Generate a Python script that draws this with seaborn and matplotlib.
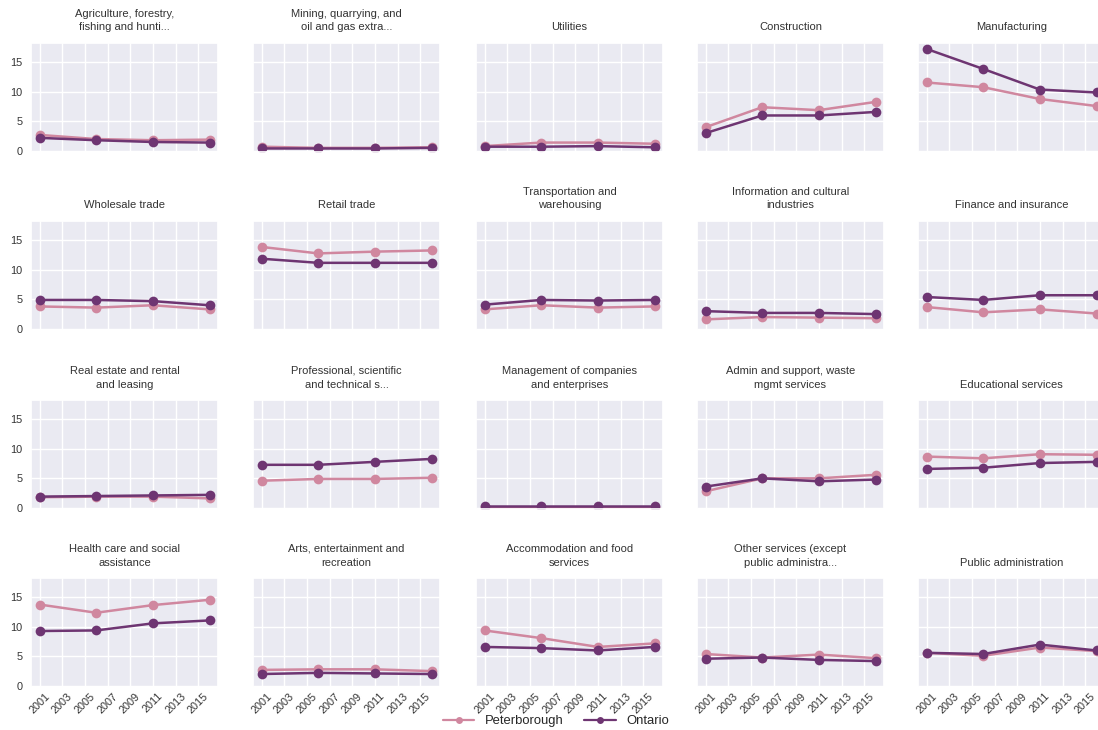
import matplotlib
matplotlib.use("Agg")
import matplotlib.pyplot as plt
import seaborn as sns
import pandas as pd

# Census years and share of employment (%) by industry
years = [2001, 2006, 2011, 2016]

industries = [
    "Agriculture, forestry,\nfishing and hunti...",
    "Mining, quarrying, and\noil and gas extra...",
    "Utilities",
    "Construction",
    "Manufacturing",
    "Wholesale trade",
    "Retail trade",
    "Transportation and\nwarehousing",
    "Information and cultural\nindustries",
    "Finance and insurance",
    "Real estate and rental\nand leasing",
    "Professional, scientific\nand technical s...",
    "Management of companies\nand enterprises",
    "Admin and support, waste\nmgmt services",
    "Educational services",
    "Health care and social\nassistance",
    "Arts, entertainment and\nrecreation",
    "Accommodation and food\nservices",
    "Other services (except\npublic administra...",
    "Public administration",
]

peterborough = [
    [2.7, 2.0, 1.8, 1.9],
    [0.7, 0.5, 0.5, 0.6],
    [0.8, 1.4, 1.4, 1.2],
    [4.0, 7.4, 6.9, 8.3],
    [11.6, 10.8, 8.8, 7.6],
    [3.8, 3.6, 4.0, 3.3],
    [13.9, 12.8, 13.1, 13.3],
    [3.3, 4.0, 3.6, 3.8],
    [1.6, 2.0, 1.9, 1.8],
    [3.7, 2.8, 3.3, 2.6],
    [1.8, 1.9, 1.9, 1.6],
    [4.6, 4.9, 4.9, 5.1],
    [0.2, 0.2, 0.2, 0.2],
    [2.8, 5.0, 5.0, 5.6],
    [8.7, 8.4, 9.1, 9.0],
    [13.8, 12.4, 13.7, 14.6],
    [2.7, 2.8, 2.8, 2.5],
    [9.4, 8.1, 6.6, 7.2],
    [5.4, 4.8, 5.3, 4.7],
    [5.6, 5.1, 6.5, 5.9],
]

ontario = [
    [2.2, 1.8, 1.5, 1.4],
    [0.4, 0.4, 0.4, 0.5],
    [0.7, 0.7, 0.8, 0.6],
    [3.0, 6.0, 6.0, 6.6],
    [17.3, 13.9, 10.4, 9.9],
    [4.9, 4.9, 4.7, 4.0],
    [11.9, 11.2, 11.2, 11.2],
    [4.1, 4.9, 4.8, 4.9],
    [3.0, 2.7, 2.7, 2.5],
    [5.4, 4.9, 5.7, 5.7],
    [1.9, 2.0, 2.1, 2.2],
    [7.3, 7.3, 7.8, 8.3],
    [0.3, 0.3, 0.3, 0.3],
    [3.6, 5.0, 4.5, 4.8],
    [6.6, 6.8, 7.6, 7.8],
    [9.3, 9.4, 10.6, 11.1],
    [2.0, 2.2, 2.1, 2.0],
    [6.6, 6.4, 6.0, 6.6],
    [4.6, 4.8, 4.4, 4.2],
    [5.6, 5.4, 7.0, 6.0],
]

regions = ["Peterborough", "Ontario"]
region_colors = {"Peterborough": "#d0879f", "Ontario": "#6e3572"}
xtick_years = list(range(2001, 2016, 2))
ytick_values = [0, 5, 10, 15]

rows = []
for name, p_vals, o_vals in zip(industries, peterborough, ontario):
    for yr, pv, ov in zip(years, p_vals, o_vals):
        rows.append({"industry": name, "year": yr, "region": "Peterborough", "share": pv})
        rows.append({"industry": name, "year": yr, "region": "Ontario", "share": ov})
df = pd.DataFrame(rows)

sns.set_theme(style="darkgrid")
plt.rcParams["font.family"] = ["Liberation Sans", "DejaVu Sans"]

W, H = 1098, 730
fig = plt.figure(figsize=(W / 100, H / 100), dpi=100)

col_left = [31, 253, 476, 697, 918]
row_top = [43, 221, 400, 578]
ax_w, ax_h = 187, 109

axes = []
first = None
for i, name in enumerate(industries):
    r, c = divmod(i, 5)
    rect = [col_left[c] / W, 1 - (row_top[r] + ax_h) / H, ax_w / W, ax_h / H]
    if first is None:
        ax = fig.add_axes(rect)
        first = ax
    else:
        ax = fig.add_axes(rect, sharex=first, sharey=first)
    sub = df[df["industry"] == name]
    sns.lineplot(data=sub, x="year", y="share", hue="region", hue_order=regions,
                 palette=region_colors, marker="o", markersize=7, markeredgewidth=0,
                 linewidth=1.8, ax=ax, legend=(i == 0))
    ax.set_title(name, fontsize=8, color="#333333", pad=9, linespacing=1.45)
    ax.set_xlabel("")
    ax.set_ylabel("")
    ax.set_xticks(xtick_years)
    ax.set_yticks(ytick_values)
    ax.tick_params(axis="both", labelsize=7.8, colors="#333333", length=0)
    ax.tick_params(axis="y", pad=6)
    ax.tick_params(axis="x", pad=3)
    if c != 0:
        ax.tick_params(axis="y", labelleft=False)
    if r != 3:
        ax.tick_params(axis="x", labelbottom=False)
    else:
        for lab in ax.get_xticklabels():
            lab.set_rotation(45)
    axes.append(ax)

first.set_ylim(-0.2, 18.3)

handles, labels = axes[0].get_legend_handles_labels()
axes[0].get_legend().remove()
for h in handles:
    h.set_markersize(5)
    h.set_linewidth(1.6)
fig.legend(handles, labels, loc="center", bbox_to_anchor=(556 / W, 1 - 721 / H),
           ncol=2, frameon=False, fontsize=9.4, handlelength=2.4,
           columnspacing=1.6, handletextpad=0.8, borderaxespad=0)

fig.savefig("out.png", dpi=100)
